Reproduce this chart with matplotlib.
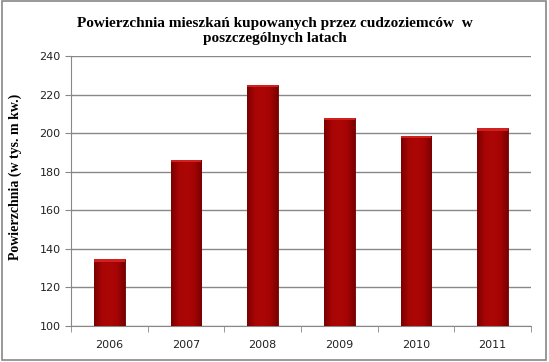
import matplotlib
matplotlib.use("Agg")
import matplotlib.pyplot as plt
from matplotlib.patches import Rectangle
from matplotlib.colors import LinearSegmentedColormap
import numpy as np

years = ["2006", "2007", "2008", "2009", "2010", "2011"]
values = [134.5, 186, 225, 208, 198.5, 202.5]
yticks = [100, 120, 140, 160, 180, 200, 220, 240]

fig = plt.figure(figsize=(5.49, 3.62), dpi=100)
ax = fig.add_axes([71/549, 1-326/362, 460/549, 270/362])

x = list(range(len(years)))
bars = ax.bar(x, [v - 100 for v in values], bottom=100, width=0.40,
              color="#A50303", edgecolor="#6E0000", linewidth=0.6, zorder=3)

cmap = LinearSegmentedColormap.from_list("barg", ["#7A0000", "#A80505", "#AC0707", "#A50404", "#7A0000"])
grad = np.linspace(0, 1, 64).reshape(1, -1)
for b in bars:
    x0, y0 = b.get_x(), b.get_y()
    w, h = b.get_width(), b.get_height()
    im = ax.imshow(grad, cmap=cmap, aspect="auto", extent=[x0, x0 + w, y0, y0 + h],
                   zorder=3.5, interpolation="bicubic")
    im.set_clip_path(b)
    # top highlight
    ax.add_patch(Rectangle((x0, y0 + h - 1.2), w, 1.2, facecolor="#D02020",
                           edgecolor="none", zorder=4))

ax.set_xlim(-0.5, len(years) - 0.5)
ax.set_ylim(100, 240)
ax.set_yticks(yticks)
ax.set_yticklabels([str(t) for t in yticks], fontsize=8, family="DejaVu Sans", color="#222222")
ax.set_xticks(x)
ax.set_xticklabels(years, fontsize=8, family="DejaVu Sans", color="#222222")
ax.tick_params(axis="x", length=0, pad=10)
ax.tick_params(axis="y", length=4, color="#888888", direction="out")
ax.set_xticks([i - 0.5 for i in range(len(years) + 1)], minor=True)
ax.tick_params(axis="x", which="minor", length=4, color="#888888", direction="out")

ax.grid(axis="y", color="#888888", linewidth=1, zorder=0)
for s in ["top", "right"]:
    ax.spines[s].set_visible(False)
for s in ["left", "bottom"]:
    ax.spines[s].set_color("#888888")

fig.text(15/549, 1 - 177/362, "Powierzchnia (w tys. m kw.)", rotation=90,
         ha="center", va="center", fontsize=10, fontweight="bold",
         family="Liberation Serif")

fig.text(0.5, 1 - 31/362, "Powierzchnia mieszkań kupowanych przez cudzoziemców  w\nposzczególnych latach",
         ha="center", va="center", fontsize=11, fontweight="bold",
         family="Liberation Serif", linespacing=1.15)

fig.patches.append(Rectangle((0.004, 0.006), 0.99, 0.99, transform=fig.transFigure,
                             fill=False, edgecolor="#888888", linewidth=1.2))

fig.savefig("out.png", dpi=100)
